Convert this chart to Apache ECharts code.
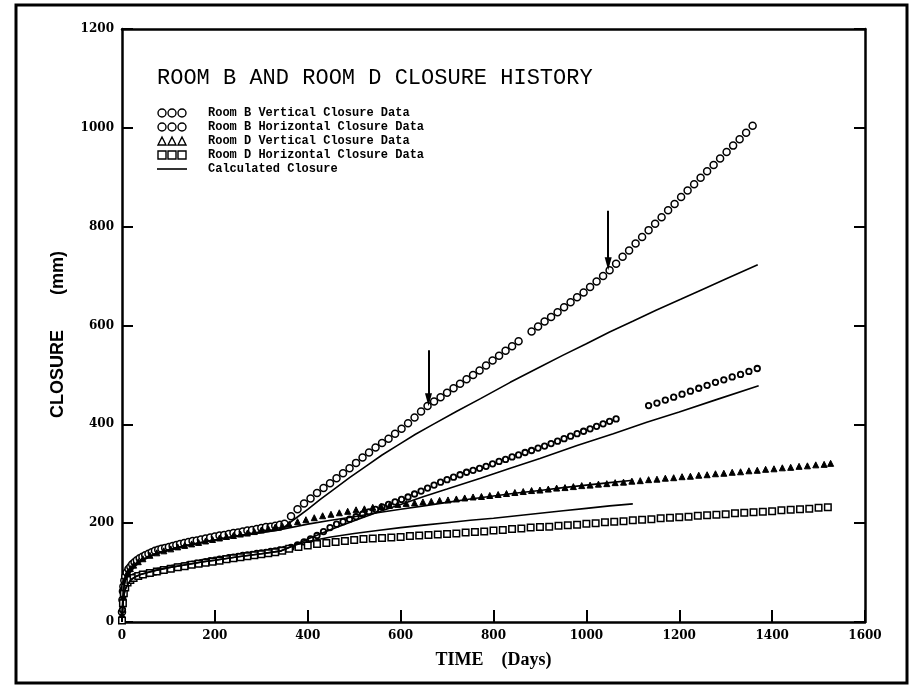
<!DOCTYPE html>
<html>
<head>
<meta charset="utf-8">
<script src="https://cdn.jsdelivr.net/npm/echarts@6/dist/echarts.min.js"></script>
<style>
  html, body { margin: 0; padding: 0; background: #fff; }
  #chart { width: 923px; height: 688px; }
</style>
</head>
<body>
<div id="chart"></div>
<script>
// Closure history, [day, closure mm]
const roomBVertical = [
  [0,20],[1,45],[2,62],[3,72],[5,84],[7,92],[10,100],[14,107],[18,112],[22,117],[27,121],[32,125],
  [38,129],[44,132],[50,135],[57,138],[64,141],[71,144],[78,146],[85,148],[93,150],[101,152],[109,154],
  [117,156],[125,158],[134,160],[143,162],[152,164],[161,165],[170,167],[180,169],[190,171],[200,173],
  [210,175],[220,176],[230,178],[240,180],[250,181],[260,183],[270,185],[280,186],[290,188],[300,190],
  [310,192],[320,193],[330,195],[340,197],[350,199],
  [364,214],[378,228],[392,240],[406,250],[420,261],[434,271],[448,281],[462,291],[476,301],[490,311],
  [504,322],[518,333],[532,343],[546,353],[560,362],[574,371],[588,381],[602,391],[616,402],[630,414],
  [644,426],[658,437],[672,446],[686,455],[700,464],[714,473],[728,482],[742,491],[756,500],[770,509],
  [784,519],[798,529],[812,539],[826,549],[840,558],[854,568],[882,588],[896,598],[910,608],
  [924,617],[938,627],[952,637],[966,647],[980,657],[994,667],[1008,678],[1022,689],[1036,700],[1050,712],
  [1064,725],[1078,739],[1092,752],[1106,766],[1120,779],[1134,793],[1148,806],[1162,819],[1176,833],
  [1190,846],[1204,860],[1218,873],[1232,886],[1246,899],[1260,912],[1274,925],[1288,938],[1302,951],
  [1316,964],[1330,977],[1344,990],[1358,1004]
];

const roomBHorizontal = [
  [0,5],[1,25],[2,42],[3,55],[5,68],[7,76],[10,83],[14,87],[18,89],[22,90],[27,92],[32,94],[38,95],
  [44,96],[50,97],[57,98],[64,100],[71,101],[78,103],[85,104],[93,106],[101,108],[109,109],[117,111],
  [125,112],[134,114],[143,116],[152,117],[161,119],[170,120],[180,122],[190,124],[200,125],[210,127],
  [220,128],[230,130],[240,131],[250,133],[260,135],[270,136],[280,137],[290,139],[300,140],[310,141],
  [320,143],[330,144],[340,146],[350,147],
  [364,151],[378,156],[392,162],[406,168],[420,175],[434,183],[448,191],[462,198],[476,203],[490,208],
  [504,213],[518,218],[532,223],[546,228],[560,233],[574,238],[588,243],[602,248],[616,253],[630,259],
  [644,265],[658,271],[672,277],[686,283],[700,288],[714,293],[728,298],[742,303],[756,307],[770,311],
  [784,315],[798,320],[812,325],[826,329],[840,334],[854,338],[868,343],[882,347],[896,352],[910,356],
  [924,361],[938,366],[952,371],[966,376],[980,381],[994,386],[1008,391],[1022,396],[1036,401],
  [1050,406],[1064,411],
  [1134,438],[1152,443],[1170,449],[1188,455],[1206,461],[1224,467],[1242,473],[1260,479],[1278,485],
  [1296,490],[1314,496],[1332,501],[1350,507],[1368,513]
];

const roomDVertical = [
  [0,15],[2,55],[4,75],[7,88],[12,100],[18,108],[25,115],[35,122],[45,128],[60,135],[75,140],[90,144],
  [105,148],[120,152],[135,155],[150,158],[165,161],[180,164],[195,167],[210,170],[225,173],[240,175],
  [255,178],[270,180],[285,183],[300,186],[315,189],[330,192],[345,195],
  [360,198],[378,203],[396,207],[414,211],[432,215],[450,218],[468,221],[486,224],[504,227],[522,229],
  [540,232],[558,234],[576,236],[594,238],[612,240],[630,241],[648,243],[666,244],[684,246],[702,247],
  [720,249],[738,251],[756,253],[774,254],[792,256],[810,258],[828,260],[846,262],[864,264],[882,266],
  [900,267],[918,269],[936,271],[954,272],[972,274],[990,276],[1008,277],[1026,279],[1044,280],
  [1062,282],[1080,283],[1098,285],[1116,286],[1134,288],[1152,289],[1170,291],[1188,292],[1206,294],
  [1224,295],[1242,297],[1260,298],[1278,300],[1296,301],[1314,303],[1332,304],[1350,306],[1368,307],
  [1386,309],[1404,310],[1422,312],[1440,313],[1458,315],[1476,316],[1494,318],[1512,319],[1526,321]
];

const roomDHorizontal = [
  [0,3],[2,38],[4,58],[7,70],[12,80],[18,85],[25,89],[35,93],[45,96],[60,99],[75,102],[90,105],
  [105,108],[120,111],[135,113],[150,116],[165,118],[180,120],[195,122],[210,124],[225,127],[240,129],
  [255,131],[270,133],[285,135],[300,137],[315,139],[330,141],[345,144],
  [360,148],[380,152],[400,155],[420,158],[440,160],[460,162],[480,164],[500,166],[520,168],[540,169],
  [560,170],[580,171],[600,172],[620,174],[640,175],[660,176],[680,177],[700,178],[720,179],[740,181],
  [760,182],[780,183],[800,185],[820,186],[840,188],[860,189],[880,191],[900,192],[920,193],[940,195],
  [960,196],[980,197],[1000,199],[1020,200],[1040,202],[1060,203],[1080,204],[1100,206],[1120,207],
  [1140,208],[1160,210],[1180,211],[1200,212],[1220,213],[1240,215],[1260,216],[1280,217],[1300,218],
  [1320,220],[1340,221],[1360,222],[1380,223],[1400,224],[1420,226],[1440,227],[1460,228],[1480,229],
  [1500,231],[1520,232]
];

// Calculated closure curves
const calcBVertical = [
  [0,0],[1,30],[2,50],[3,62],[5,75],[7,84],[10,92],[15,101],[20,108],[30,117],[40,124],[55,131],
  [70,137],[85,142],[100,146],[125,152],[150,157],[175,162],[200,166],[250,174],[300,181],[343,187],
  [360,200],[380,214],[400,228],[427,248],[454,267],[490,292],[525,315],[560,338],[596,359],[632,380],
  [668,399],[720,426],[772,452],[836,485],[900,516],[950,540],[1000,563],[1050,587],[1101,609],
  [1150,631],[1203,653],[1250,673],[1300,694],[1369,723]
];
const calcBHorizontal = [
  [0,0],[1,20],[2,35],[3,45],[5,58],[7,66],[10,72],[15,80],[20,86],[30,92],[40,96],[55,100],
  [70,104],[85,107],[100,110],[125,114],[150,118],[175,122],[200,125],[250,132],[300,138],[343,144],
  [370,155],[400,168],[450,187],[500,205],[550,222],[600,238],[650,254],[700,269],[772,291],[836,311],
  [900,331],[980,357],[1058,381],[1130,404],[1200,425],[1280,450],[1371,478]
];
const calcDVertical = [
  [0,0],[1,30],[2,50],[3,62],[5,75],[7,84],[10,92],[15,101],[20,108],[30,117],[40,124],[55,131],
  [70,137],[85,142],[100,146],[125,152],[150,157],[175,162],[200,166],[250,174],[300,181],[343,187],
  [400,198],[450,206],[500,213],[550,221],[600,228],[650,235],[700,242],[750,249],[800,255],
  [850,261],[900,266],[950,272],[1000,277],[1050,282],[1101,287]
];
const calcDHorizontal = [
  [0,0],[1,20],[2,35],[3,45],[5,58],[7,66],[10,72],[15,80],[20,86],[30,92],[40,96],[55,100],
  [70,104],[85,107],[100,110],[125,114],[150,118],[175,122],[200,125],[250,132],[300,138],[343,144],
  [370,155],[400,163],[450,172],[500,179],[550,185],[600,191],[650,196],[700,201],[750,206],
  [800,210],[850,215],[900,220],[950,225],[1000,230],[1050,235],[1100,239]
];

// Arrow annotations on the Room B vertical record: [day, from mm, to mm]
const arrowMarks = [[660, 550, 450], [1047, 832, 725]];

const xTicks = { min: 0, max: 1600, interval: 200 };
const yTicks = { min: 0, max: 1200, interval: 200 };

const seriesNames = [
  'Room B Vertical Closure Data',
  'Room B Horizontal Closure Data',
  'Room D Vertical Closure Data',
  'Room D Horizontal Closure Data',
  'Calculated Closure'
];

const INK = '#000';
const tickFont = {
  fontFamily: 'DejaVu Serif', fontWeight: 'bold', fontSize: 12, color: INK,
  formatter: (v) => String(v)
};

// Legend glyphs: three small markers side by side
const iconCircles = 'path://M0,4a4,4 0 1,0 8,0a4,4 0 1,0 -8,0Z M10,4a4,4 0 1,0 8,0a4,4 0 1,0 -8,0Z M20,4a4,4 0 1,0 8,0a4,4 0 1,0 -8,0Z';
const iconTriangles = 'path://M0,8L4,0L8,8Z M10,8L14,0L18,8Z M20,8L24,0L28,8Z';
const iconSquares = 'path://M0,0H8V8H0Z M10,0H18V8H10Z M20,0H28V8H20Z';
const iconLine = 'path://M0,0H30V1.6H0Z';

const chart = echarts.init(document.getElementById('chart'), null, { renderer: 'canvas' });

const markerSeries = (name, data, symbol, size, fill, bw) => ({
  name: name,
  type: 'scatter',
  data: data,
  symbol: symbol,
  symbolSize: size,
  itemStyle: { color: fill, borderColor: INK, borderWidth: bw, opacity: 1 },
  z: 3
});

const calcLine = (data) => ({
  name: seriesNames[4],
  type: 'line',
  data: data,
  showSymbol: false,
  symbol: 'none',
  smooth: false,
  lineStyle: { color: INK, width: 1.6 },
  itemStyle: { color: INK },
  z: 4
});

const bVerticalSeries = markerSeries(seriesNames[0], roomBVertical, 'circle', 7, '#fff', 1.5);
bVerticalSeries.markLine = {
  silent: true,
  symbol: ['none', 'triangle'],
  symbolSize: [7, 13],
  label: { show: false },
  lineStyle: { color: INK, width: 2, type: 'solid' },
  data: arrowMarks.map(a => [{ coord: [a[0], a[1]] }, { coord: [a[0], a[2]] }])
};

chart.setOption({
  animation: false,
  backgroundColor: '#fff',
  title: {
    text: 'ROOM B AND ROOM D CLOSURE HISTORY',
    left: 152, top: 62,
    textStyle: { fontFamily: 'Liberation Mono', fontWeight: 'normal', fontSize: 22, color: INK }
  },
  legend: {
    orient: 'vertical',
    left: 157, top: 107,
    itemWidth: 30, itemHeight: 8, itemGap: 2,
    padding: 0,
    selectedMode: false,
    textStyle: {
      fontFamily: 'Liberation Mono', fontWeight: 'bold', fontSize: 12, lineHeight: 11,
      color: INK, padding: [0, 0, 0, 16]
    },
    itemStyle: { borderWidth: 1.4, borderColor: INK },
    data: [
      { name: seriesNames[0], icon: iconCircles },
      { name: seriesNames[1], icon: iconCircles },
      { name: seriesNames[2], icon: iconTriangles, itemStyle: { color: '#fff', borderColor: INK, borderWidth: 1.4 } },
      { name: seriesNames[3], icon: iconSquares },
      { name: seriesNames[4], icon: iconLine, itemStyle: { color: INK, borderWidth: 0 } }
    ]
  },
  grid: { left: 122, right: 58, top: 29, bottom: 66 },
  xAxis: [
    {
      type: 'value', ...xTicks,
      name: 'TIME    (Days)', nameLocation: 'middle', nameGap: 29,
      nameTextStyle: { fontFamily: 'Liberation Serif', fontWeight: 'bold', fontSize: 18, color: INK },
      axisLine: { onZero: false, lineStyle: { color: INK, width: 2.5 } },
      axisTick: { inside: true, length: 12, lineStyle: { color: INK, width: 2 } },
      axisLabel: { ...tickFont, margin: 8 },
      splitLine: { show: false }
    },
    {
      type: 'value', position: 'top', ...xTicks,
      axisLine: { show: true, onZero: false, lineStyle: { color: INK, width: 2.5 } },
      axisTick: { show: false }, axisLabel: { show: false }, splitLine: { show: false }
    }
  ],
  yAxis: [
    {
      type: 'value', ...yTicks,
      name: 'CLOSURE       (mm)', nameLocation: 'middle', nameGap: 55, nameRotate: 90,
      nameTextStyle: { fontFamily: 'Liberation Sans', fontWeight: 'bold', fontSize: 18, color: INK, padding: [0, 18, 0, 0] },
      axisLine: { show: true, onZero: false, lineStyle: { color: INK, width: 2.5 } },
      axisTick: { inside: true, length: 11, lineStyle: { color: INK, width: 2 } },
      axisLabel: { ...tickFont, margin: 8 },
      splitLine: { show: false }
    },
    {
      type: 'value', position: 'right', ...yTicks,
      axisLine: { show: true, onZero: false, lineStyle: { color: INK, width: 2.5 } },
      axisTick: { inside: true, length: 11, lineStyle: { color: INK, width: 2 } },
      axisLabel: { show: false }, splitLine: { show: false }
    }
  ],
  series: [
    bVerticalSeries,
    markerSeries(seriesNames[1], roomBHorizontal, 'circle', 5.5, '#fff', 1.8),
    markerSeries(seriesNames[2], roomDVertical, 'triangle', 6, INK, 1),
    markerSeries(seriesNames[3], roomDHorizontal, 'rect', 6.5, '#fff', 1.5),
    calcLine(calcBVertical),
    calcLine(calcBHorizontal),
    calcLine(calcDVertical),
    calcLine(calcDHorizontal)
  ],
  graphic: [
    {
      type: 'rect', silent: true, z: 100,
      shape: { x: 16, y: 5, width: 891, height: 678 },
      style: { fill: 'none', stroke: INK, lineWidth: 3 }
    }
  ]
});
</script>
</body>
</html>
